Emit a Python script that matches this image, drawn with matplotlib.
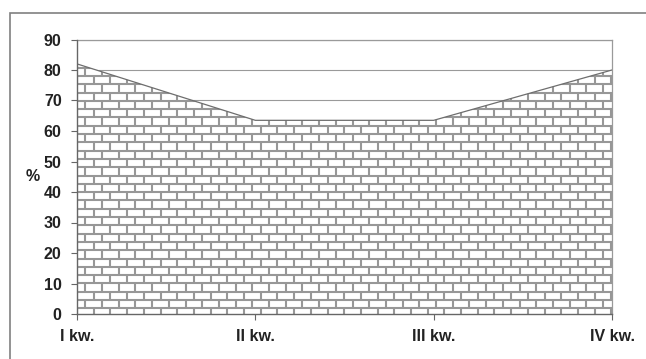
import numpy as np
import matplotlib
matplotlib.use("Agg")
import matplotlib.pyplot as plt
from matplotlib.collections import LineCollection
from matplotlib.patches import Rectangle

quarters = ["I kw.", "II kw.", "III kw.", "IV kw."]
share = [82, 63.5, 63.5, 80]
yticks = [0, 10, 20, 30, 40, 50, 60, 70, 80, 90]

plt.rcParams['font.family'] = ['Liberation Sans', 'DejaVu Sans']

fig = plt.figure(figsize=(6.46, 3.59), dpi=100)
ax = fig.add_axes([77 / 646, 45 / 359, 535 / 646, 274.5 / 359])

# outer frame of the chart box
fig.patches.append(Rectangle((10 / 646, -0.2), 1.2, 1.2 - 13 / 359,
                             transform=fig.transFigure, fill=False,
                             edgecolor="#808080", linewidth=1.2))

x = np.arange(len(quarters))
ax.set_xlim(0, len(quarters) - 1)
ax.set_ylim(0, 90)

for v in yticks[1:]:
    ax.axhline(v, color="#9a9a9a", linewidth=0.8, zorder=1)

area = ax.fill_between(x, 0, share, facecolor="white", edgecolor="none", zorder=2)
ax.plot(x, share, color="#6e6e6e", linewidth=0.9, zorder=4)

# brick pattern, built in axes fraction and clipped to the area
row_h = 8.3 / 274.5
brick_w = 16.7 / 535
y0 = 5.7 / 274.5 - row_h
segs = []
k = 0
y = y0
while y < 1:
    segs.append([(0, y), (1, y)])
    shift = 0.5 * brick_w if k % 2 else 0.0
    xs = np.arange(shift - brick_w, 1 + brick_w, brick_w)
    for xv in xs:
        segs.append([(xv, y), (xv, y + row_h)])
    y += row_h
    k += 1
bricks = LineCollection(segs, colors="#979797", linewidths=1.5,
                        transform=ax.transAxes, zorder=3)
ax.add_collection(bricks)
clip = area.get_paths()[0]
bricks.set_clip_path(clip, ax.transData)

for side in ["top", "right"]:
    ax.spines[side].set_color("#9a9a9a")
    ax.spines[side].set_linewidth(0.9)
for side in ["left", "bottom"]:
    ax.spines[side].set_color("#666666")
    ax.spines[side].set_linewidth(1.0)
    ax.spines[side].set_zorder(5)

ax.set_xticks(x)
ax.set_xticklabels(quarters, fontsize=11.5, fontweight="bold", color="#222222")
ax.set_yticks(yticks)
ax.set_yticklabels([str(v) for v in yticks], fontsize=11.5, fontweight="bold", color="#222222")
ax.tick_params(axis="y", length=4.3, width=0.8, color="#666666", pad=6.7)
ax.tick_params(axis="x", length=4, width=0.8, color="#666666", pad=7)

ax.set_ylabel("%", rotation=0, fontsize=11.5, fontweight="bold", color="#222222",
              ha="center", va="center")
ax.yaxis.set_label_coords(-0.082, 0.5)

fig.savefig("out.png", dpi=100)
